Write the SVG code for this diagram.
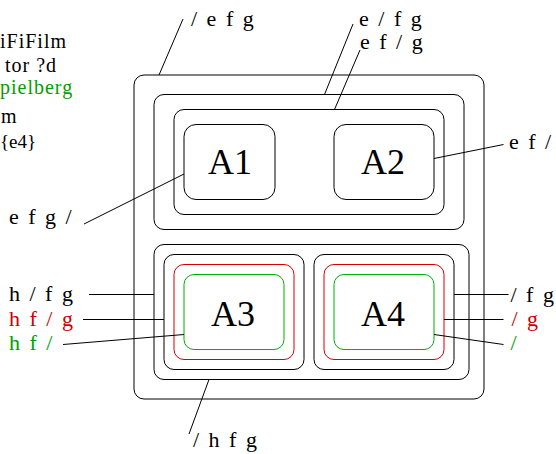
<svg xmlns="http://www.w3.org/2000/svg" width="556" height="454" viewBox="0 0 556 454" font-family="'Liberation Serif', 'Times New Roman', serif">
  <style>
    .box { fill: none; stroke: #000; stroke-width: 1; }
    .red { fill: none; stroke: #d40000; stroke-width: 1; }
    .grn { fill: none; stroke: #00b000; stroke-width: 1; }
    .wire { stroke: #000; stroke-width: 1; fill: none; }
    text { fill: #000; }
    .lbl { font-size: 22px; letter-spacing: 1px; word-spacing: 2px; }
    .side { font-size: 20px; letter-spacing: 1px; }
    .big { font-size: 36px; text-anchor: middle; }
    .tr { fill: #cc0000; }
    .tg { fill: #00a000; }
  </style>
  <rect width="556" height="454" fill="#fff"/>

  <!-- side captions along the left margin -->
  <g id="captions" class="side" font-family="Liberation Serif, serif">
    <text x="0" y="47.5">iFiFilm</text>
    <text x="5" y="71.5">tor ?d</text>
    <text x="0" y="94" class="tg">pielberg</text>
    <text x="1" y="122.5">m</text>
    <text x="0" y="148" style="font-size:19px;letter-spacing:0">{e4}</text>
  </g>

  <!-- container boxes -->
  <g id="outer"><rect class="box" x="134" y="75" width="350" height="324" rx="10"/></g>
  <g id="top-group"><rect class="box" x="154" y="94.5" width="310" height="135" rx="10"/></g>
  <g id="top-inner"><rect class="box" x="174" y="109.5" width="270" height="105" rx="10"/></g>
  <g id="bottom-group"><rect class="box" x="154" y="244.5" width="315" height="135" rx="10"/></g>

  <!-- leaf nodes -->
  <g id="A1" font-family="Liberation Serif, serif">
    <rect class="box" x="184" y="124.5" width="91" height="75" rx="12"/>
    <text class="big" x="230" y="174">A1</text>
  </g>
  <g id="A2" font-family="Liberation Serif, serif">
    <rect class="box" x="334" y="124.5" width="100" height="75" rx="12"/>
    <text class="big" x="383" y="174">A2</text>
  </g>
  <g id="A3" font-family="Liberation Serif, serif">
    <rect class="box" x="164" y="254.5" width="140" height="115" rx="10"/>
    <rect class="red" x="174" y="264.5" width="120" height="95" rx="10"/>
    <rect class="grn" x="184" y="274.5" width="100" height="75" rx="10"/>
    <text class="big" x="233" y="325.5">A3</text>
  </g>
  <g id="A4" font-family="Liberation Serif, serif">
    <rect class="box" x="314" y="254.5" width="140" height="115" rx="10"/>
    <rect class="red" x="324" y="264.5" width="120" height="95" rx="10"/>
    <rect class="grn" x="334" y="274.5" width="100" height="75" rx="10"/>
    <text class="big" x="383" y="325.5">A4</text>
  </g>

  <!-- label leaders -->
  <g id="connectors" class="wire">
    <line x1="159" y1="75" x2="183" y2="19"/>
    <line x1="324.5" y1="94.5" x2="353" y2="24"/>
    <line x1="334.5" y1="109.5" x2="360" y2="50"/>
    <line x1="434" y1="158.5" x2="503.5" y2="144.5"/>
    <line x1="184" y1="174" x2="84" y2="224"/>
    <line x1="89" y1="294.5" x2="154" y2="294.5"/>
    <line x1="83" y1="319.5" x2="164" y2="319.5"/>
    <line x1="63" y1="344.5" x2="184" y2="334.5"/>
    <line x1="454" y1="294.5" x2="508.5" y2="294.5"/>
    <line x1="444" y1="319.5" x2="503.5" y2="319.5"/>
    <line x1="434" y1="334.5" x2="503.5" y2="344.5"/>
    <line x1="209" y1="379.5" x2="189" y2="434"/>
  </g>

  <!-- labels -->
  <g id="labels" class="lbl" font-family="Liberation Serif, serif">
    <text x="191" y="26">/ e f g</text>
    <text x="359" y="26">e / f g</text>
    <text x="360" y="48.5">e f / g</text>
    <text x="509" y="148.5">e f /</text>
    <text x="9" y="224">e f g /</text>
    <text x="9" y="300.5">h / f g</text>
    <text x="9" y="326" class="tr">h f / g</text>
    <text x="9" y="349.5" class="tg">h f /</text>
    <text x="510.5" y="302">/ f g</text>
    <text x="511.5" y="325.5" class="tr">/ g</text>
    <text x="510.5" y="350" class="tg">/</text>
    <text x="193" y="447">/ h f g</text>
  </g>
</svg>
